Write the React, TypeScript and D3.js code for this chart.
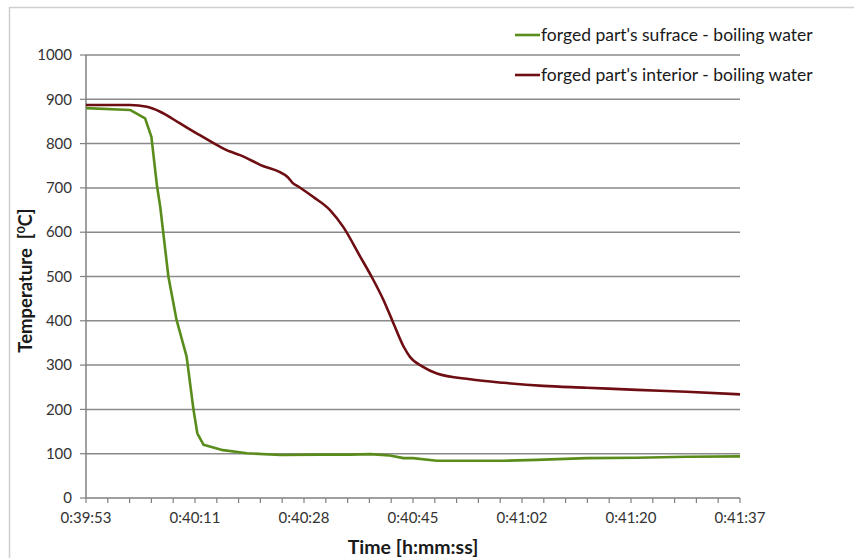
import React from "react";
import * as d3 from "d3";

// time in seconds after 0:39:53
const surfaceTime = [0, 7.0, 9.4, 10.4, 11.3, 11.8, 13.1, 14.4, 16.0, 17.1, 17.7, 18.7, 21.8, 25.6, 30.9, 37.2, 42.0, 45.2, 48.3, 50.5, 52.0, 55.8, 61.1, 66.4, 71.7, 79.6, 87.6, 95.5, 104];
const surfaceTemp = [880, 876, 857, 815, 703, 658, 500, 402, 319, 199, 146, 120, 108, 101, 97, 98, 98, 99, 96, 90, 90, 84, 84, 84, 86, 90, 91, 93, 94];

const interiorTime = [0, 7.0, 9.7, 11.8, 14.9, 18.1, 21.3, 22.9, 24.5, 27.7, 32.1, 32.8, 34.0, 36.1, 38.8, 40.9, 43.6, 45.4, 47.3, 48.9, 50.5, 51.5, 53.6, 55.8, 61.1, 66.4, 72.7, 79.6, 87.6, 95.5, 104];
const interiorTemp = [887, 887, 883, 872, 846, 819, 793, 782, 774, 752, 724, 712, 701, 680, 650, 612, 545, 500, 447, 394, 342, 319, 296, 281, 268, 260, 253, 249, 244, 240, 234];

const xTickLabels = ["0:39:53", "0:40:11", "0:40:28", "0:40:45", "0:41:02", "0:41:20", "0:41:37"];
const yTicks = [0, 100, 200, 300, 400, 500, 600, 700, 800, 900, 1000];
const seriesNames = ["forged part's sufrace - boiling water", "forged part's interior - boiling water"];
const seriesColors = ["#5a8c1c", "#6e0e12"];

const W = 854;
const H = 558;
const L = 86, R = 740, T = 55, B = 498;
const FONT = "Lato, 'Open Sans', sans-serif";

export default function App() {
  const x = d3.scaleLinear().domain([0, 104]).range([L, R]);
  const y = d3.scaleLinear().domain([0, 1000]).range([B, T]);
  const lineLin = d3
    .line<[number, number]>()
    .x((d) => x(d[0]))
    .y((d) => y(d[1]));
  const lineSmooth = d3
    .line<[number, number]>()
    .x((d) => x(d[0]))
    .y((d) => y(d[1]))
    .curve(d3.curveMonotoneX);

  const surf: [number, number][] = surfaceTime.map((t, i) => [t, surfaceTemp[i]]);
  const inter: [number, number][] = interiorTime.map((t, i) => [t, interiorTemp[i]]);

  const minorTicks = d3.range(0, 31).map((i) => (i * 104) / 30);
  const majorTicks = d3.range(0, 7).map((i) => (i * 104) / 6);

  return (
    <svg width={W} height={H} style={{ position: "absolute", left: 0, top: 0 }} fontFamily={FONT}>
      <rect x={0} y={0} width={W} height={H} fill="#fff" />
      <rect x={9.5} y={7.5} width={W + 20} height={H + 20} fill="none" stroke="#cfcfcf" strokeWidth={1.5} />
      {/* gridlines */}
      {yTicks.filter((v) => v > 0).map((v) => (
        <line key={v} x1={L} x2={R} y1={y(v)} y2={y(v)} stroke="#8a8a8a" strokeWidth={1.5} />
      ))}
      {/* y axis */}
      <line x1={L} x2={L} y1={T} y2={B} stroke="#808080" strokeWidth={1.5} />
      {yTicks.map((v) => (
        <g key={v}>
          <line x1={L - 6} x2={L} y1={y(v)} y2={y(v)} stroke="#808080" strokeWidth={1.2} />
          <text x={L - 14} y={y(v)} dy="0.35em" textAnchor="end" fontSize={15} fill="#333">
            {v}
          </text>
        </g>
      ))}
      {/* x axis */}
      <line x1={L} x2={R} y1={B} y2={B} stroke="#808080" strokeWidth={1.5} />
      {minorTicks.map((t, i) => (
        <line key={i} x1={x(t)} x2={x(t)} y1={B} y2={B + 5} stroke="#808080" strokeWidth={1.2} />
      ))}
      {majorTicks.map((t, i) => (
        <text key={i} x={x(t)} y={523} textAnchor="middle" fontSize={15} fill="#333">
          {xTickLabels[i]}
        </text>
      ))}
      {/* axis titles */}
      <text x={413} y={554} textAnchor="middle" fontSize={19.5} fontWeight="bold" fill="#1a1a1a">
        Time [h:mm:ss]
      </text>
      <text transform={`translate(32,${(T + B) / 2 + 4}) rotate(-90)`} textAnchor="middle" fontSize={18.5} fontWeight="bold" fill="#1a1a1a">
        Temperature{"\u00a0\u00a0"}[<tspan fontSize={12} dy={-7}>0</tspan><tspan dy={7}>C]</tspan>
      </text>
      {/* series */}
      <path d={lineLin(surf) ?? ""} fill="none" stroke={seriesColors[0]} strokeWidth={2.6} strokeLinejoin="round" />
      <path d={lineSmooth(inter) ?? ""} fill="none" stroke={seriesColors[1]} strokeWidth={2.6} strokeLinejoin="round" />
      {/* legend */}
      {seriesNames.map((n, i) => (
        <g key={n} transform={`translate(515,${35 + i * 40})`}>
          <line x1={0} x2={25} y1={0} y2={0} stroke={seriesColors[i]} strokeWidth={2.6} />
          <text x={26} y={0} dy="0.35em" fontSize={17.5} fill="#1a1a1a">
            {n}
          </text>
        </g>
      ))}
    </svg>
  );
}
